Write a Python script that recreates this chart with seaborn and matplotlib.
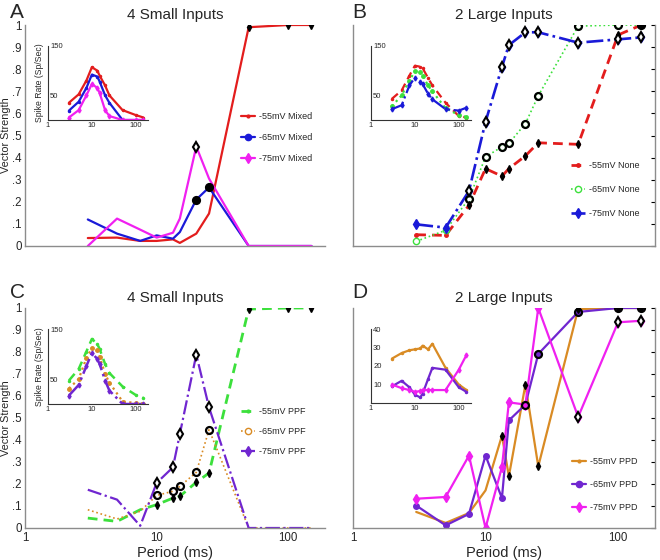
import numpy as np
import pandas as pd
import matplotlib
matplotlib.use("Agg")
import matplotlib.pyplot as plt
import seaborn as sns
from matplotlib.lines import Line2D
from matplotlib.ticker import LogLocator, NullFormatter

# ---------------- data ----------------
periods = [3, 5, 7.5, 10, 13.3, 15, 20, 25, 50, 100, 150]

# Panel A: 4 small inputs, Mixed
a_vs_55 = [0.036, 0.038, 0.023, 0.023, 0.030, 0.014, 0.056, 0.147, 0.990, 1.0, 1.0]
a_vs_65 = [0.120, 0.056, 0.023, 0.048, 0.033, 0.063, 0.210, 0.265, 0.0, 0.0, 0.0]
a_vs_75 = [0.0, 0.124, 0.074, 0.038, 0.060, 0.124, 0.450, 0.305, 0.0, 0.0, 0.0]
a_sr_55 = [35, 52, 80, 107, 100, 90, 70, 50, 20, 10, 5]
a_sr_65 = [19, 37, 65, 92, 88, 78, 50, 35, 0, 0, 0]
a_sr_75 = [5, 20, 50, 73, 65, 55, 20, 8, 0, 0, 0]
a_sig = [[8, 9, 10], [6, 7], [6]]

# Panel B: 2 large inputs, None
b_vs_55 = [0.051, 0.048, 0.184, 0.350, 0.316, 0.350, 0.408, 0.467, 0.460, 0.955, 1.0]
b_vs_65 = [0.021, 0.071, 0.214, 0.403, 0.449, 0.464, 0.554, 0.680, 0.995, 1.0, 1.0]
b_vs_75 = [0.098, 0.083, 0.249, 0.562, 0.810, 0.909, 0.967, 0.967, 0.920, 0.935, 0.944]
b_sr_55 = [43, 60, 90, 110, 108, 105, 85, 70, 35, 8, 5]
b_sr_65 = [28, 50, 80, 99, 97, 90, 70, 58, 24, 10, 6]
b_sr_75 = [22, 30, 70, 86, 78, 73, 53, 42, 22, 19, 25]
b_sig = [list(range(2, 11)), list(range(2, 11)), list(range(2, 11))]

# Panel C: 4 small inputs, PPF
c_vs_55 = [0.045, 0.030, 0.083, 0.106, 0.136, 0.144, 0.208, 0.250, 0.995, 1.0, 1.0]
c_vs_65 = [0.083, 0.041, 0.076, 0.148, 0.167, 0.189, 0.253, 0.447, 0.0, 0.0, 0.0]
c_vs_75 = [0.174, 0.129, 0.010, 0.205, 0.276, 0.427, 0.788, 0.548, 0.0, 0.0, 0.0]
c_sr_55 = [47, 70, 105, 130, 120, 110, 80, 62, 35, 18, 12]
c_sr_65 = [31, 50, 92, 112, 108, 95, 60, 43, 5, 2, 1]
c_sr_75 = [17, 38, 76, 102, 90, 80, 47, 27, 0, 0, 0]
c_sig = [list(range(3, 11)), [3, 4, 5, 6, 7], [3, 4, 5, 6, 7]]

# Panel D: 2 large inputs, PPD
d_vs_55 = [0.073, 0.023, 0.068, 0.171, 0.420, 0.235, 0.652, 0.280, 0.995, 1.0, 1.0]
d_vs_65 = [0.102, 0.012, 0.064, 0.329, 0.136, 0.489, 0.561, 0.791, 0.982, 1.0, 1.0]
d_vs_75 = [0.133, 0.141, 0.329, 0.0, 0.277, 0.571, 0.561, 1.0, 0.505, 0.935, 0.942]
d_sr_55 = [24, 27, 28.5, 29, 29.5, 31, 29, 32, 19, 10, 7]
d_sr_65 = [9, 12, 8.5, 4.5, 3, 5, 13, 19, 18, 8.5, 6]
d_sr_75 = [10, 8, 7, 6, 6.5, 7, 7, 7, 7, 18, 26]
d_sig = [[4, 5, 6, 7, 8, 9, 10], [6, 7, 8, 9, 10], [8, 9, 10]]

y_ticks = [0, 0.1, 0.2, 0.3, 0.4, 0.5, 0.6, 0.7, 0.8, 0.9, 1.0]
y_tick_labels = ["0", ".1", ".2", ".3", ".4", ".5", ".6", ".7", ".8", ".9", "1"]
x_ticks = [1, 10, 100]
x_tick_labels = ["1", "10", "100"]

# ---------------- style ----------------
sns.set_style("white")
plt.rcParams["font.family"] = ["Liberation Sans", "DejaVu Sans"]

W, H = 660, 560
fig = plt.figure(figsize=(6.6, 5.6), dpi=100)


def px_axes(l, t, r, b):
    ax = fig.add_axes([l / W, 1 - b / H, (r - l) / W, (b - t) / H])
    ax.set_xscale("log")
    return ax


SPINE = "#8c8c8c"


def style_main(ax, title, right, ylab, xlab):
    ax.set_xlim(1, 190)
    ax.set_ylim(0, 1)
    ax.set_yticks(y_ticks)
    ax.set_xticks(x_ticks)
    ax.xaxis.set_minor_locator(LogLocator(base=10, subs=np.arange(2, 10)))
    ax.xaxis.set_minor_formatter(NullFormatter())
    for s in ["top", "right", "left", "bottom"]:
        ax.spines[s].set_color(SPINE)
        ax.spines[s].set_linewidth(1.0)
    ax.spines["top"].set_visible(False)
    ax.spines["right"].set_visible(right)
    ax.tick_params(which="major", direction="in", length=3, width=0.8,
                   color="k", labelsize=8.3, pad=3, right=right)
    ax.tick_params(axis="y", pad=2.5)
    ax.tick_params(which="minor", direction="in", length=2, width=0.6, color="k")
    ax.set_xlabel("")
    ax.set_ylabel("")
    if ylab:
        ax.set_yticklabels(y_tick_labels)
        ax.set_ylabel("Vector Strength", fontsize=7.8)
        ax.yaxis.set_label_coords(-0.048, 0.5)
    else:
        ax.set_yticklabels([])
    if xlab:
        ax.set_xticklabels(x_tick_labels)
        ax.set_xlabel("Period (ms)", fontsize=10.5, labelpad=1)
    else:
        ax.set_xticklabels([])
    ax.set_title(title, fontsize=11, pad=4)


def style_inset(ax, yl, yt, ytl, ylab):
    ax.set_xlim(1, 190)
    ax.set_ylim(*yl)
    ax.set_xticks(x_ticks)
    ax.set_xticklabels(x_tick_labels)
    ax.xaxis.set_minor_locator(LogLocator(base=10, subs=np.arange(2, 10)))
    ax.xaxis.set_minor_formatter(NullFormatter())
    ax.set_yticks(yt)
    ax.set_yticklabels(ytl)
    ax.patch.set_alpha(0)
    ax.spines["top"].set_visible(False)
    ax.spines["right"].set_visible(False)
    for s in ["left", "bottom"]:
        ax.spines[s].set_color("#333333")
        ax.spines[s].set_linewidth(0.8)
    ax.tick_params(which="major", direction="in", length=2, width=0.6,
                   color="k", labelsize=5.5, pad=1.5)
    ax.tick_params(axis="y", pad=-1.5)
    for lbl in ax.get_yticklabels():
        lbl.set_horizontalalignment("left")
    ax.tick_params(which="minor", direction="in", length=1.2, width=0.5, color="k")
    ax.set_xlabel("")
    ax.set_ylabel("")
    if ylab:
        ax.set_ylabel("Spike Rate (Sp/Sec)", fontsize=6.2, labelpad=0)
        ax.yaxis.set_label_coords(-0.04, 0.5)


def draw_line(ax, vals, color, ls, lw, marker=None, ms=4, mfc=None):
    df = pd.DataFrame({"period": periods, "value": vals})
    kw = dict(color=color, linestyle=ls, linewidth=lw)
    if marker is not None:
        kw.update(marker=marker, markersize=ms, markeredgecolor=color,
                  markerfacecolor=color if mfc is None else mfc, markeredgewidth=1)
    sns.lineplot(data=df, x="period", y="value", ax=ax, legend=False,
                 errorbar=None, **kw)


def draw_sig(ax, vals, idx, kind, filled=False):
    xs = np.array(periods)[idx]
    ys = np.array(vals)[idx]
    if kind == 0:
        ax.plot(xs, ys, linestyle="none", marker="d", ms=3.8, color="k", zorder=5)
    elif kind == 1:
        ax.plot(xs, ys, linestyle="none", marker="o", ms=5,
                mfc="k" if filled else "none", mec="k", mew=1.6, zorder=5)
    else:
        ax.plot(xs, ys, linestyle="none", marker="d", ms=5.5,
                mfc="w", mec="k", mew=1.5, zorder=5)


def add_legend(ax, specs, x, y, spacing):
    handles = []
    for lab, c, ls, lw, mk, ms, mfc in specs:
        handles.append(Line2D([], [], color=c, linestyle=ls, linewidth=lw,
                              marker=mk, markersize=ms, markerfacecolor=mfc,
                              markeredgecolor=c, label=lab))
    ax.legend(handles=handles, loc="upper left", bbox_to_anchor=(x, y),
              frameon=False, fontsize=6.5, handlelength=1.6, handletextpad=0.4,
              labelspacing=spacing, borderpad=0, borderaxespad=0)


# colours
RED = "#e31d1d"
BLUE = "#1a1ad8"
MAG = "#f020f0"
GREEN = "#3ce03c"
ORANGE = "#d98b24"
PURPLE = "#7026d0"
DASH = (0, (3.5, 2.2))

# ---------------- Panel A ----------------
axA = px_axes(25, 25, 325, 246)
draw_line(axA, a_vs_55, RED, "-", 1.6)
draw_line(axA, a_vs_65, BLUE, "-", 1.6)
draw_line(axA, a_vs_75, MAG, "-", 1.6)
draw_sig(axA, a_vs_55, a_sig[0], 0)
draw_sig(axA, a_vs_65, a_sig[1], 1, filled=True)
draw_sig(axA, a_vs_75, a_sig[2], 2)
style_main(axA, "4 Small Inputs", False, True, False)
add_legend(axA, [("-55mV Mixed", RED, "-", 1.6, ".", 4, RED),
                 ("-65mV Mixed", BLUE, "-", 1.6, "o", 4.5, BLUE),
                 ("-75mV Mixed", MAG, "-", 1.6, "d", 5, MAG)], 0.72, 0.606, 1.33)
iA = px_axes(48, 46, 148, 120)
draw_line(iA, a_sr_55, RED, "-", 1.6, ".", 3)
draw_line(iA, a_sr_65, BLUE, "-", 1.6, ".", 3)
draw_line(iA, a_sr_75, MAG, "-", 1.6, "d", 2.5)
style_inset(iA, (0, 150), [50, 100, 150], ["50", "", "150"], True)

# ---------------- Panel B ----------------
axB = px_axes(353, 25, 655, 246)
draw_line(axB, b_vs_55, RED, DASH, 2.0, ".", 5)
draw_line(axB, b_vs_65, GREEN, ":", 1.2, "o", 4.5, "w")
draw_line(axB, b_vs_75, BLUE, "-.", 1.9, "d", 5)
draw_sig(axB, b_vs_55, b_sig[0], 0)
draw_sig(axB, b_vs_65, b_sig[1][:-1], 1)
draw_sig(axB, b_vs_65, b_sig[1][-1:], 1, filled=True)
draw_sig(axB, b_vs_75, b_sig[2], 2)
style_main(axB, "2 Large Inputs", True, False, False)
add_legend(axB, [("-55mV None", RED, DASH, 2.0, ".", 5, RED),
                 ("-65mV None", GREEN, ":", 1.2, "o", 4.5, "w"),
                 ("-75mV None", BLUE, "-.", 1.9, "d", 5, BLUE)], 0.721, 0.386, 1.67)
iB = px_axes(371, 46, 471, 120)
draw_line(iB, b_sr_55, RED, DASH, 1.6, ".", 3)
draw_line(iB, b_sr_65, GREEN, ":", 1.6, "o", 2.5)
draw_line(iB, b_sr_75, BLUE, "-.", 1.6, "d", 2.5)
style_inset(iB, (0, 150), [50, 100, 150], ["50", "", "150"], False)

# ---------------- Panel C ----------------
axC = px_axes(25, 308, 325, 528)
draw_line(axC, c_vs_55, GREEN, DASH, 2.0)
draw_line(axC, c_vs_65, ORANGE, ":", 1.2)
draw_line(axC, c_vs_75, PURPLE, "-.", 1.6)
draw_sig(axC, c_vs_55, c_sig[0], 0)
draw_sig(axC, c_vs_65, c_sig[1], 1)
draw_sig(axC, c_vs_75, c_sig[2], 2)
style_main(axC, "4 Small Inputs", False, True, True)
add_legend(axC, [("-55mV PPF", GREEN, DASH, 2.0, ".", 4, GREEN),
                 ("-65mV PPF", ORANGE, ":", 1.2, "o", 4.5, "w"),
                 ("-75mV PPF", PURPLE, "-.", 1.6, "d", 5, PURPLE)], 0.719, 0.548, 1.19)
iC = px_axes(48, 329, 148, 404)
draw_line(iC, c_sr_55, GREEN, DASH, 1.8, ".", 3)
draw_line(iC, c_sr_65, ORANGE, ":", 1.6, "o", 2.5)
draw_line(iC, c_sr_75, PURPLE, "-.", 1.8, "d", 2.5)
style_inset(iC, (0, 150), [50, 100, 150], ["50", "", "150"], True)

# ---------------- Panel D ----------------
axD = px_axes(353, 308, 655, 528)
draw_line(axD, d_vs_55, ORANGE, "-", 1.6)
draw_line(axD, d_vs_65, PURPLE, "-", 1.6, "o", 4)
draw_line(axD, d_vs_75, MAG, "-", 1.6, "d", 5)
draw_sig(axD, d_vs_55, d_sig[0], 0)
draw_sig(axD, d_vs_65, d_sig[1], 1)
draw_sig(axD, d_vs_75, d_sig[2], 2)
style_main(axD, "2 Large Inputs", True, False, True)
add_legend(axD, [("-55mV PPD", ORANGE, "-", 1.6, ".", 4, ORANGE),
                 ("-65mV PPD", PURPLE, "-", 1.6, "o", 4.5, PURPLE),
                 ("-75mV PPD", MAG, "-", 1.6, "d", 5, MAG)], 0.724, 0.321, 1.55)
iD = px_axes(371, 329, 471, 403)
draw_line(iD, d_sr_55, ORANGE, "-", 1.6, ".", 3)
draw_line(iD, d_sr_65, PURPLE, "-", 1.6, ".", 3)
draw_line(iD, d_sr_75, MAG, "-", 1.6, "d", 2.5)
style_inset(iD, (0, 40), [10, 20, 30, 40], ["10", "20", "30", "40"], False)

# panel letters
fig.text(10 / W, 1 - 18 / H, "A", fontsize=15, va="baseline")
fig.text(352 / W, 1 - 18 / H, "B", fontsize=15, va="baseline")
fig.text(10 / W, 1 - 298 / H, "C", fontsize=15, va="baseline")
fig.text(352 / W, 1 - 298 / H, "D", fontsize=15, va="baseline")

fig.savefig("out.png", dpi=100, facecolor="white")
